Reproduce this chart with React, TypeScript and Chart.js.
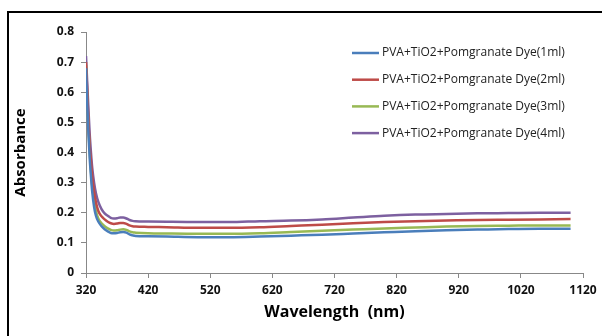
import React, { useEffect, useRef } from "react";
import { Chart, registerables } from "chart.js";

Chart.register(...registerables);

const wavelengths = [320, 322, 324, 326, 328, 330, 333, 336, 340, 345, 350, 355, 360, 365, 370, 375, 380, 385, 390, 395, 400, 420, 450, 500, 550, 600, 650, 700, 750, 800, 850, 900, 950, 1000, 1050, 1100];

const dye1ml = [0.68, 0.56, 0.46, 0.38, 0.32, 0.27, 0.22, 0.19, 0.17, 0.155, 0.145, 0.138, 0.133, 0.132, 0.133, 0.135, 0.136, 0.134, 0.128, 0.125, 0.123, 0.122, 0.121, 0.119, 0.119, 0.121, 0.124, 0.127, 0.131, 0.135, 0.139, 0.142, 0.144, 0.146, 0.147, 0.147];
const dye2ml = [0.70, 0.60, 0.50, 0.42, 0.37, 0.32, 0.27, 0.235, 0.205, 0.188, 0.178, 0.17, 0.165, 0.163, 0.164, 0.166, 0.166, 0.163, 0.158, 0.155, 0.154, 0.153, 0.152, 0.15, 0.15, 0.152, 0.156, 0.16, 0.165, 0.169, 0.172, 0.174, 0.176, 0.177, 0.178, 0.179];
const dye3ml = [0.69, 0.58, 0.48, 0.40, 0.34, 0.29, 0.24, 0.205, 0.18, 0.165, 0.155, 0.148, 0.143, 0.141, 0.142, 0.144, 0.145, 0.143, 0.138, 0.135, 0.134, 0.132, 0.131, 0.13, 0.13, 0.132, 0.136, 0.14, 0.144, 0.148, 0.151, 0.154, 0.156, 0.157, 0.158, 0.158];
const dye4ml = [0.72, 0.63, 0.54, 0.46, 0.40, 0.35, 0.30, 0.265, 0.235, 0.212, 0.198, 0.19, 0.183, 0.181, 0.182, 0.184, 0.184, 0.181, 0.176, 0.173, 0.172, 0.171, 0.17, 0.169, 0.169, 0.172, 0.174, 0.178, 0.184, 0.19, 0.194, 0.196, 0.198, 0.199, 0.2, 0.2];

const seriesLabels = [
  "PVA+TiO2+Pomgranate Dye(1ml)",
  "PVA+TiO2+Pomgranate Dye(2ml)",
  "PVA+TiO2+Pomgranate Dye(3ml)",
  "PVA+TiO2+Pomgranate Dye(4ml)",
];
const seriesValues = [dye1ml, dye2ml, dye3ml, dye4ml];
const seriesColors = ["#4A7EBB", "#BE4B48", "#98B954", "#7D60A0"];

const FONT = "'Open Sans', 'Liberation Sans', sans-serif";

const framePlugin = {
  id: "frame",
  beforeDraw(chart: any) {
    const ctx = chart.ctx;
    ctx.save();
    ctx.fillStyle = "#fff";
    ctx.fillRect(0, 0, chart.width, chart.height);
    ctx.fillStyle = "#000";
    ctx.fillRect(7, 11, 2, chart.height - 11);
    ctx.fillRect(7, 11, chart.width - 7, 2);
    ctx.restore();
  },
  afterDraw(chart: any) {
    const ctx = chart.ctx;
    ctx.save();
    ctx.font = `12px ${FONT}`;
    ctx.textBaseline = "middle";
    chart.data.datasets.forEach((ds: any, i: number) => {
      const y = 53 + i * 26.7;
      ctx.strokeStyle = ds.borderColor;
      ctx.lineWidth = 2.5;
      ctx.beginPath();
      ctx.moveTo(352, y);
      ctx.lineTo(379, y);
      ctx.stroke();
      ctx.fillStyle = "#222";
      ctx.fillText(ds.label, 382, y);
    });
    ctx.restore();
  },
};

export default function App() {
  const ref = useRef<HTMLCanvasElement>(null);
  useEffect(() => {
    document.body.style.margin = "0";
    const chart = new Chart(ref.current!, {
      type: "line",
      data: {
        datasets: seriesLabels.map((label, i) => ({
          label,
          data: wavelengths.map((w, j) => ({ x: w, y: seriesValues[i][j] })),
          borderColor: seriesColors[i],
          backgroundColor: seriesColors[i],
          borderWidth: 2.5,
          pointRadius: 0,
          cubicInterpolationMode: "monotone" as const,
        })),
      },
      options: {
        animation: false,
        responsive: false,
        layout: { padding: { left: 0, top: 32, right: 19, bottom: 14 } },
        plugins: { legend: { display: false }, tooltip: { enabled: false } },
        scales: {
          x: {
            type: "linear",
            min: 320,
            max: 1120,
            ticks: { stepSize: 100, color: "#111", font: { family: FONT, size: 12, weight: "bold" }, padding: 5, maxRotation: 0, callback: (v: any) => String(v) },
            grid: { drawOnChartArea: false, drawTicks: true, tickLength: 5, color: "#888" },
            border: { color: "#888", width: 1 },
            title: { display: true, text: "Wavelength  (nm)", color: "#000", font: { family: FONT, size: 16, weight: "bold" }, padding: { top: 6, bottom: 0 } },
            afterFit: (s: any) => { s.height = 49; },
          },
          y: {
            min: 0,
            max: 0.8,
            ticks: { stepSize: 0.1, color: "#111", font: { family: FONT, size: 12, weight: "bold" }, padding: 7 },
            grid: { drawOnChartArea: false, drawTicks: true, tickLength: 5, color: "#888" },
            border: { color: "#888", width: 1 },
            title: { display: true, text: "Absorbance", color: "#000", font: { family: FONT, size: 15, weight: "bold" }, padding: { top: 12, bottom: 0 } },
            afterFit: (s: any) => { s.width = 86; },
          },
        },
      },
      plugins: [framePlugin],
    });
    return () => chart.destroy();
  }, []);
  return (
    <div style={{ width: 602, height: 336 }}>
      <canvas ref={ref} width={602} height={336} style={{ display: "block" }} />
    </div>
  );
}
